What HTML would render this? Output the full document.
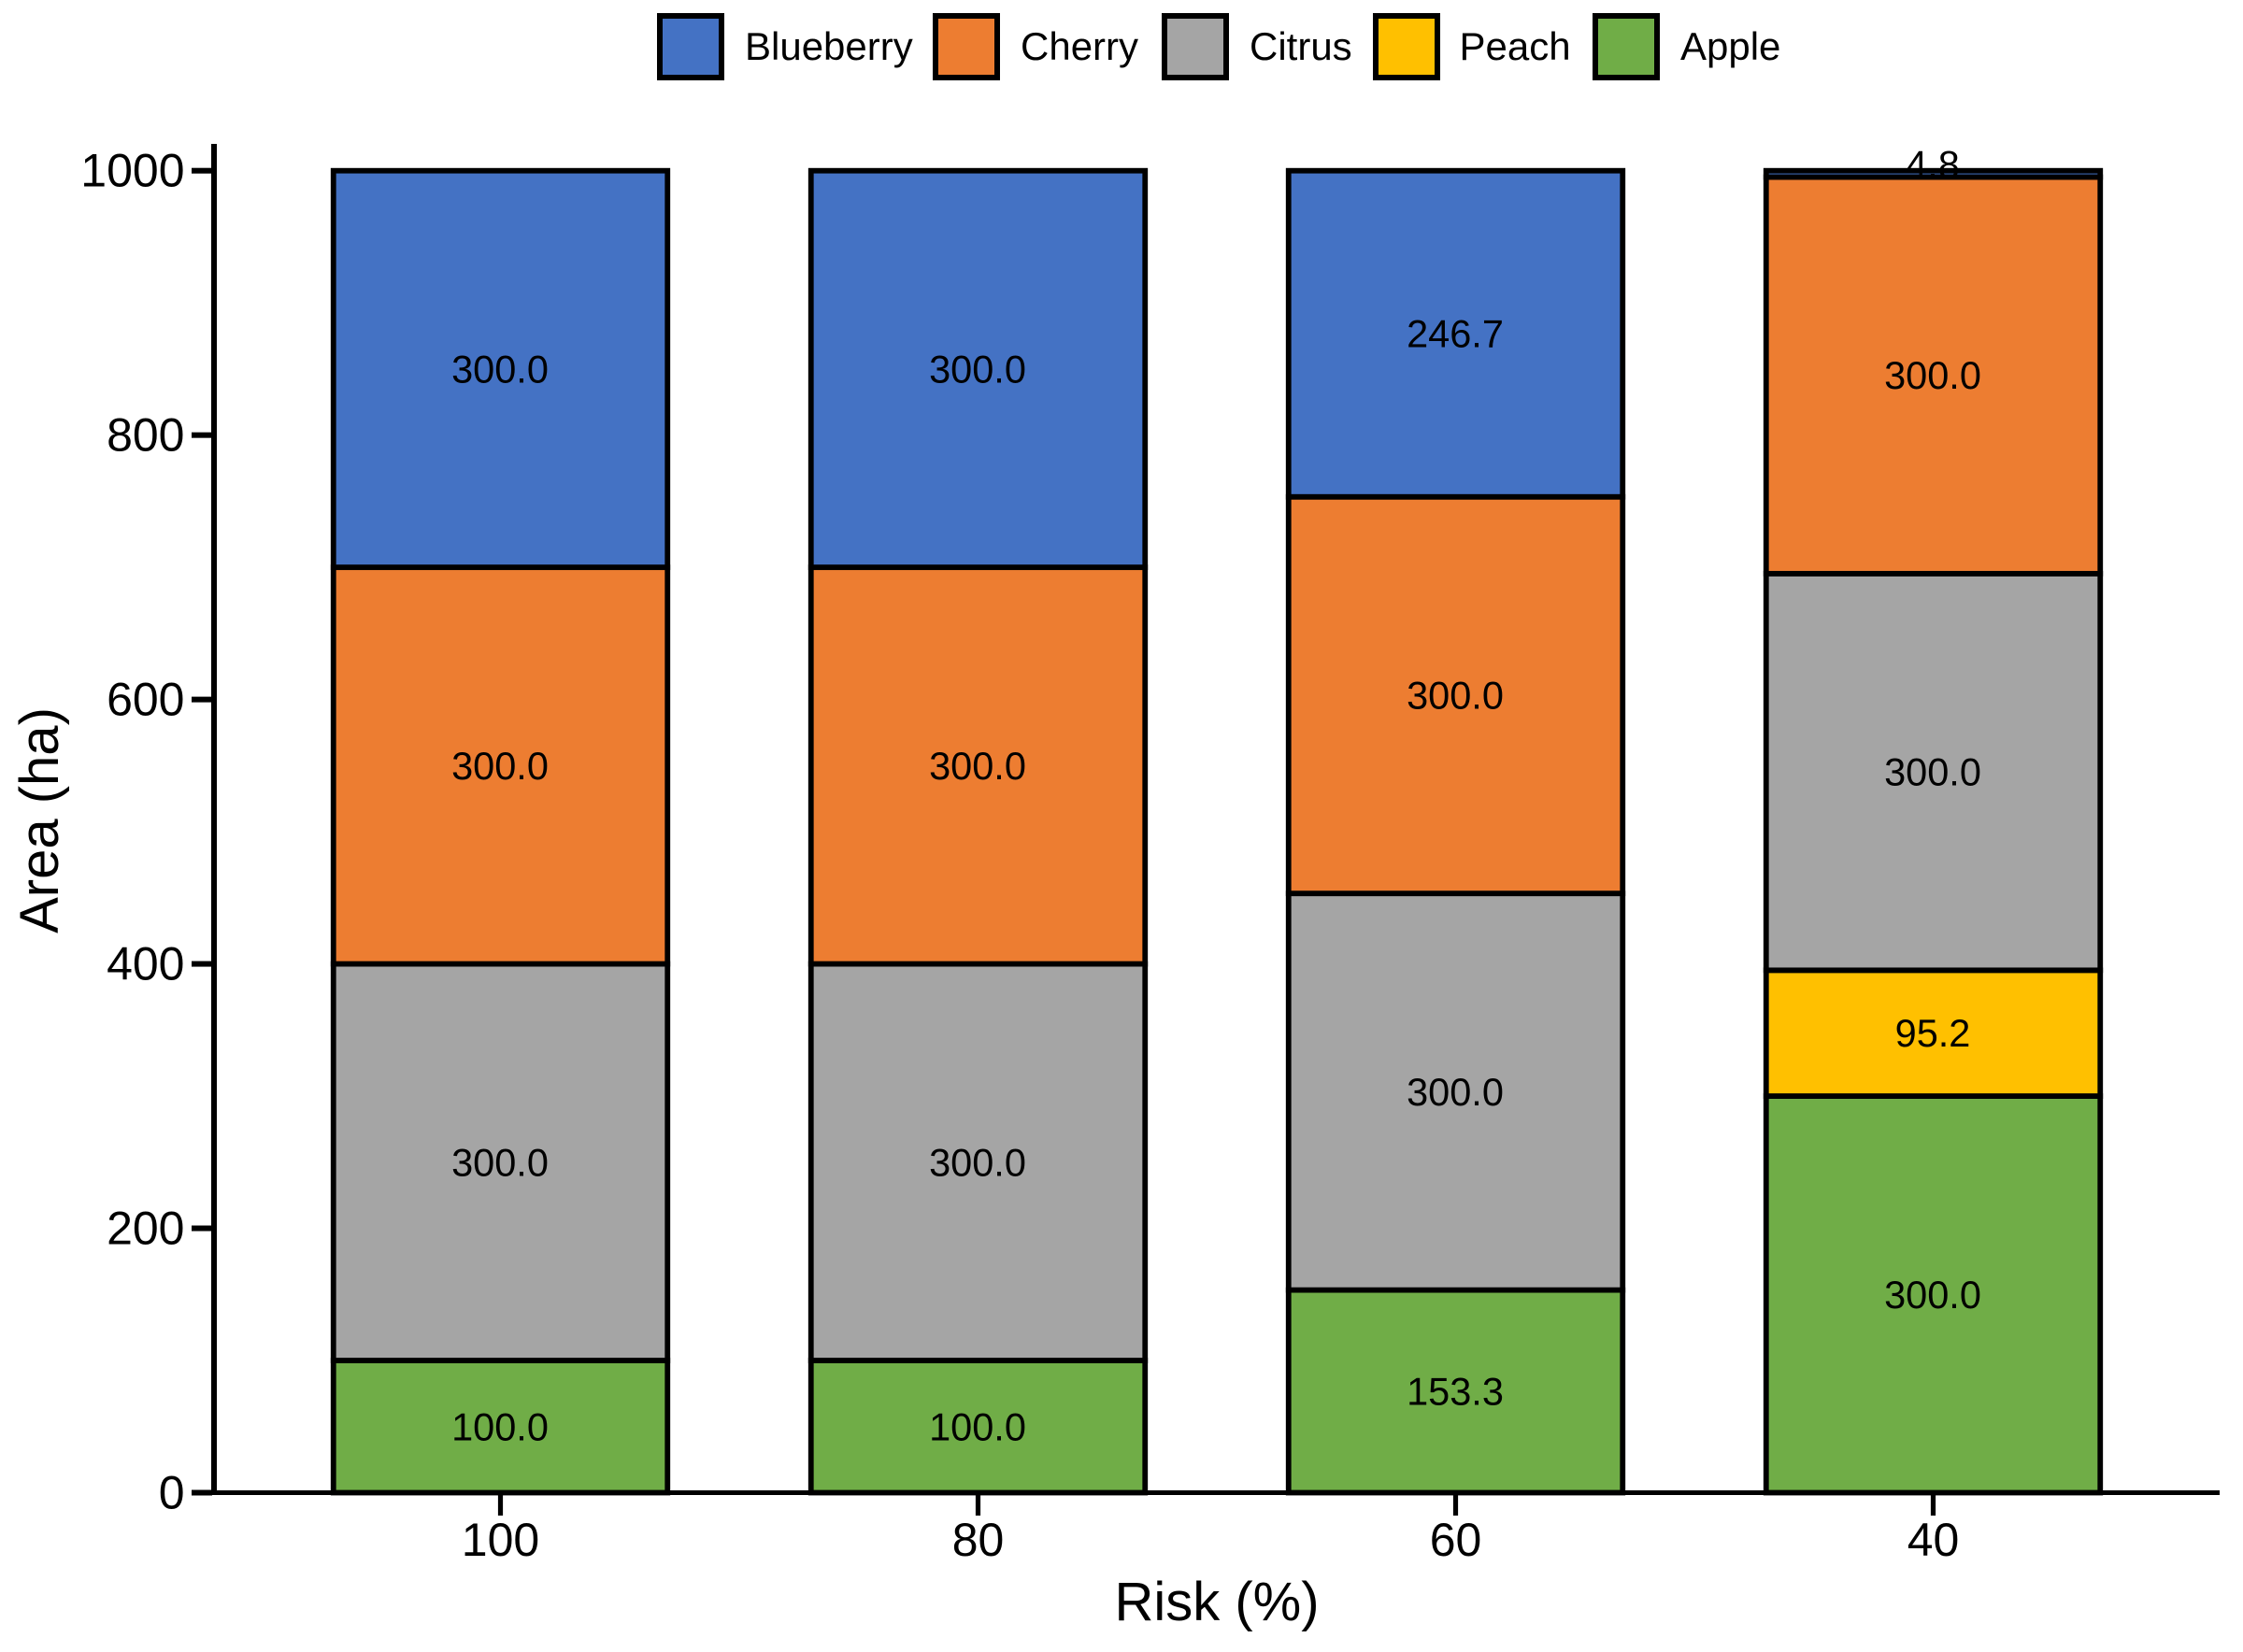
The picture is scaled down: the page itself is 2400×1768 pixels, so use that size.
<!DOCTYPE html>
<html lang="en">
<head>
<meta charset="utf-8">
<title>Area by risk level</title>
<style>
  html, body { margin: 0; padding: 0; background: #fff; }
  svg { display: block; }
  text { font-family: "Liberation Sans", Arial, sans-serif; fill: #000; }
</style>
</head>
<body>
<svg id="chart" xmlns="http://www.w3.org/2000/svg" width="2400" height="1768" viewBox="0 0 2400 1768">
  <rect x="0" y="0" width="2400" height="1768" fill="#ffffff"/>

  <g id="bars"></g>
  <g id="bar-labels"></g>
  <g id="axes"></g>

  <text x="1302" y="1734" font-size="58" text-anchor="middle">Risk (%)</text>
  <text transform="translate(62 878) rotate(-90)" font-size="58" text-anchor="middle">Area (ha)</text>

  <g font-size="42">
    <g>
      <rect x="706" y="17" width="66" height="66" fill="#4472C4" stroke="#000" stroke-width="6"/>
      <text x="797" y="64">Blueberry</text>
    </g>
    <g>
      <rect x="1001" y="17" width="66" height="66" fill="#ED7D31" stroke="#000" stroke-width="6"/>
      <text x="1092" y="64">Cherry</text>
    </g>
    <g>
      <rect x="1246" y="17" width="66" height="66" fill="#A5A5A5" stroke="#000" stroke-width="6"/>
      <text x="1337" y="64">Citrus</text>
    </g>
    <g>
      <rect x="1472" y="17" width="66" height="66" fill="#FFC000" stroke="#000" stroke-width="6"/>
      <text x="1561.5" y="64">Peach</text>
    </g>
    <g>
      <rect x="1707" y="17" width="66" height="66" fill="#70AD47" stroke="#000" stroke-width="6"/>
      <text x="1798" y="64">Apple</text>
    </g>
  </g>
</svg>

<script>
// Chart data
const categories = ["100", "80", "60", "40"];
const apple = [100.0, 100.0, 153.3, 300.0];
const peach = [0, 0, 0, 95.2];
const citrus = [300.0, 300.0, 300.0, 300.0];
const cherry = [300.0, 300.0, 300.0, 300.0];
const blueberry = [300.0, 300.0, 246.7, 4.8];
const yTickLabels = [0, 200, 400, 600, 800, 1000];
const seriesNames = ["apple", "peach", "citrus", "cherry", "blueberry"];

const seriesValues = [apple, peach, citrus, cherry, blueberry];
const seriesColors = ["#70AD47", "#FFC000", "#A5A5A5", "#ED7D31", "#4472C4"];

const SVG_NS = "http://www.w3.org/2000/svg";

// Axis functions
function xScale(index) {
  return 535.5 + index * 511;
}
function yScale(value) {
  return 1597.5 - value * 1.4148;
}
const BAR_WIDTH = 357.5;

function make(tag, parent, attrs) {
  const el = document.createElementNS(SVG_NS, tag);
  for (const key in attrs) {
    el.setAttribute(key, attrs[key]);
  }
  parent.appendChild(el);
  return el;
}

const barsGroup = document.getElementById("bars");
const labelsGroup = document.getElementById("bar-labels");
const axesGroup = document.getElementById("axes");

// Stacked bars and their value labels
categories.forEach(function (category, c) {
  let base = 0;
  seriesValues.forEach(function (values, s) {
    const value = values[c];
    if (value <= 0) {
      return;
    }
    const top = yScale(base + value);
    const bottom = yScale(base);
    const rect = make("rect", barsGroup, {
      x: xScale(c) - BAR_WIDTH / 2,
      y: top,
      width: BAR_WIDTH,
      height: bottom - top,
      fill: seriesColors[s],
      stroke: "#000",
      "stroke-width": 5.8
    });
    
    

    // Segments too thin to hold a label have it sitting up against their top edge
    const thin = bottom - top < 30;
    const baseline = thin ? top + 8 : yScale(base + value / 2) + 14.5;
    const label = make("text", labelsGroup, {
      x: xScale(c) - 0.5,
      y: baseline,
      "font-size": 41.5,
      "text-anchor": "middle"
    });
    label.textContent = value.toFixed(1);
    
    

    base += value;
  });
});

// Axis spines
const ySpine = make("rect", axesGroup, { x: 226, y: 154, width: 6, height: 1446, fill: "#000" });



const xSpine = make("rect", axesGroup, { x: 226, y: 1595, width: 2149, height: 5, fill: "#000" });



// Y ticks
yTickLabels.forEach(function (tick) {
  const py = yScale(tick);
  const mark = make("rect", axesGroup, { x: 205, y: py - 3, width: 22, height: 6, fill: "#000" });
  
  

  const text = make("text", axesGroup, { x: 197.5, y: py + 17, "font-size": 50, "text-anchor": "end" });
  text.textContent = String(tick);
  
  
});

// X ticks
categories.forEach(function (category, c) {
  const px = xScale(c);
  const mark = make("rect", axesGroup, { x: px - 2.6, y: 1599, width: 5.2, height: 23, fill: "#000" });
  
  

  const text = make("text", axesGroup, { x: px, y: 1665, "font-size": 50, "text-anchor": "middle" });
  text.textContent = category;
  
  
});
</script>
</body>
</html>
